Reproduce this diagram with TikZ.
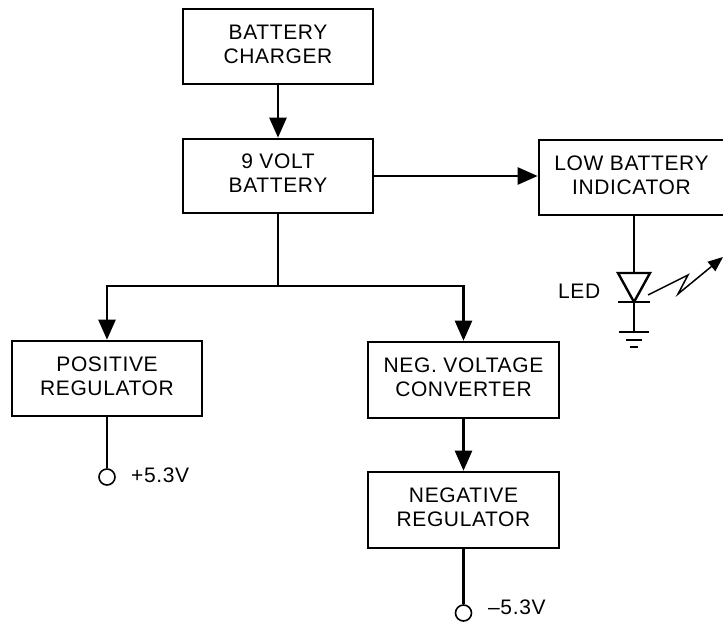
\documentclass[tikz,border=0pt]{standalone}
\usepackage{fontspec}
\setmainfont{Liberation Sans}[LetterSpace=3]
\usetikzlibrary{arrows.meta}
\tikzset{
  blk/.style={draw, line width=2.6pt, rectangle, align=center, inner sep=0pt,
    text depth=5pt, font=\fontsize{21}{24}\selectfont},
  wire/.style={line width=2.4pt},
  arr/.style={wire, -{Triangle[length=20pt,width=17pt]}},
  lbl/.style={font=\fontsize{21}{24}\selectfont, inner sep=0pt},
  term/.style={draw, circle, line width=1.6pt, fill=white, minimum size=16pt, inner sep=0pt},
}
\begin{document}
\begin{tikzpicture}[x=1pt,y=-1pt]
\useasboundingbox (0,0) rectangle (723,623);
% blocks
\node[blk, minimum width=190pt, minimum height=75pt] (chg) at (278,46.5) {BATTERY\\CHARGER};
\node[blk, minimum width=190pt, minimum height=74pt] (bat) at (278,176) {9 VOLT\\BATTERY};
\node[blk, minimum width=185pt, minimum height=75pt] (lbi) at (631.5,177.5) {LOW BATTERY\\INDICATOR};
\node[blk, minimum width=190pt, minimum height=75pt] (pos) at (107,378.5) {POSITIVE\\REGULATOR};
\node[blk, minimum width=191pt, minimum height=76pt] (nvc) at (463.5,380) {NEG. VOLTAGE\\CONVERTER};
\node[blk, minimum width=191pt, minimum height=76pt] (neg) at (463.5,510) {NEGATIVE\\REGULATOR};
% connectors
\draw[arr] (chg.south) -- (bat.north);
\draw[arr] (bat.east) -- (bat.east -| lbi.west);
\coordinate (split) at (278,286);
\draw[wire] (bat.south) -- (split);
\draw[arr] (split) -| (pos.north);
\draw[arr] (split) -| (nvc.north);
\draw[arr] (nvc.south) -- (neg.north);
% terminals
\node[term] (cp) at (107,477) {};
\node[term] (cn) at (463.5,613) {};
\draw[wire] (pos.south) -- (cp.north);
\draw[wire] (neg.south) -- (cn.north);
\node[lbl, anchor=west] (vp) at (131,475) {+5.3V};
\node[lbl, anchor=west] (vn) at (488,607) {–5.3V};
% LED
\coordinate (ledtop) at (634,273);
\coordinate (ledk) at (634,302);
\coordinate (gnd) at (634,332);
\draw[wire] (lbi.south -| ledtop) -- (ledtop);
\draw[wire, line join=miter] (618,273) -- (650,273) -- (ledk) -- cycle;
\draw[wire] (618,302) -- (650,302);
\draw[wire] (ledk) -- (gnd);
\draw[line width=2pt] (619,332) -- (649,332);
\draw[line width=2pt] (626,339.5) -- (642,339.5);
\draw[line width=2pt] (630,347) -- (638,347);
\node[lbl, anchor=west] (ledl) at (558,291) {LED};
% light emission
\draw[line width=1.5pt, -{Triangle[length=15pt,width=12pt]}] (648,295) -- (688,275) -- (678,294) -- (723,257);
\end{tikzpicture}
\end{document}
